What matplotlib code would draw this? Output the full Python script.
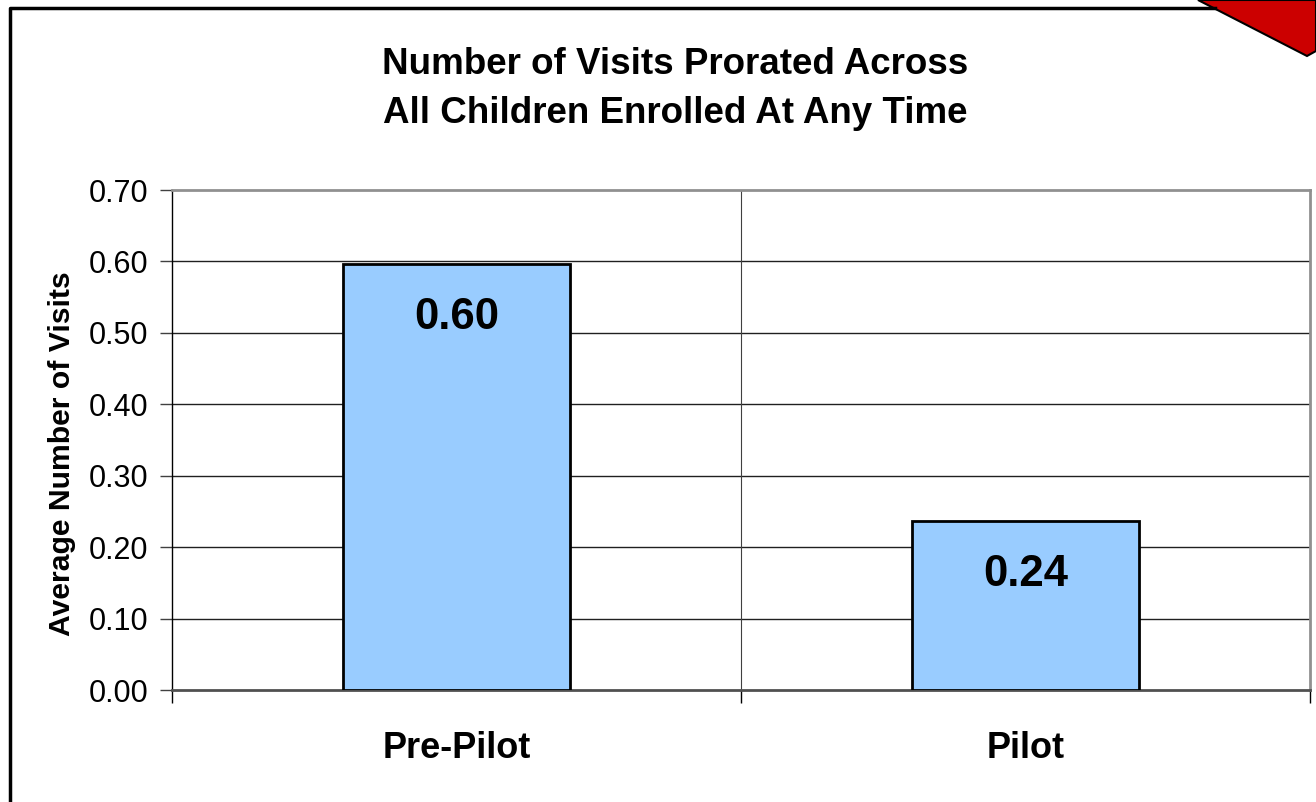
import numpy as np
import matplotlib.pyplot as plt
from matplotlib.patches import Polygon
from matplotlib.lines import Line2D

plt.rcParams['font.family'] = ['Liberation Sans', 'DejaVu Sans']

categories = ['Pre-Pilot', 'Pilot']
values = [0.597, 0.236]
value_labels = ['0.60', '0.24']
yticks = [0.0, 0.1, 0.2, 0.3, 0.4, 0.5, 0.6, 0.7]

W, H = 1316, 802
fig = plt.figure(figsize=(W / 100, H / 100), dpi=100)
ax = fig.add_axes([172 / W, 1 - 690 / H, (1310 - 172) / W, (690 - 190) / H])

x = np.arange(len(categories)) + 0.5
ax.bar(x, values, width=0.4, color='#99CCFF', edgecolor='black', linewidth=2, zorder=3)

# value labels inside bars
for xi, v, lab in zip(x, values, value_labels):
    ax.text(xi, v - 0.075, lab, ha='center', va='center', fontsize=31.5,
            fontweight='bold', zorder=4)

ax.set_xlim(0, 2)
ax.set_ylim(0, 0.7)
ax.set_yticks(yticks)
ax.set_yticklabels(['%.2f' % t for t in yticks], fontsize=22)
ax.set_xticks([0, 1, 2])
ax.set_xticklabels([])
ax.tick_params(axis='y', direction='out', length=9, width=1, pad=8, color='#404040')
ax.tick_params(axis='x', direction='out', length=9, width=1, color='black')

# gridlines
for t in yticks[1:-1]:
    ax.axhline(t, color='#202020', linewidth=1, zorder=1)
ax.axvline(1, color='#404040', linewidth=0.8, zorder=1)

for s in ['top', 'right']:
    ax.spines[s].set_color('#909090')
    ax.spines[s].set_linewidth(2)
ax.spines['bottom'].set_color('#505050')
ax.spines['bottom'].set_linewidth(2)
ax.spines['left'].set_color('black')
ax.spines['left'].set_linewidth(1)

# category labels below the axis
for xi, c in zip(x, categories):
    ax.text(xi, -(748 - 690) / 500, c, transform=ax.get_xaxis_transform(),
            ha='center', va='center', fontsize=26, fontweight='bold')

ax.set_ylabel('Average Number of Visits', fontsize=21.7, fontweight='bold',
              va='center')
ax.yaxis.set_label_coords((62 - 172) / 1138, (690 - 454) / 500)

fig.text(675 / W, 1 - 89 / H, 'Number of Visits Prorated Across\nAll Children Enrolled At Any Time',
         ha='center', va='center', fontsize=26.5, fontweight='bold', linespacing=1.5)

# frame around the chart (partly cropped)
fig.add_artist(Line2D([10 / W, 10 / W, 1215 / W], [0, 1 - 8 / H, 1 - 8 / H],
                      transform=fig.transFigure, color='black', linewidth=2.5))
tri = Polygon([(1198 / W, 1.0), (1307 / W, 1 - 56 / H), (1316 / W, 1 - 51 / H), (1316 / W, 1.0)],
              closed=True, transform=fig.transFigure, facecolor='#CC0000',
              edgecolor='black', linewidth=1.5)
fig.add_artist(tri)

fig.savefig('out.png', dpi=100)
